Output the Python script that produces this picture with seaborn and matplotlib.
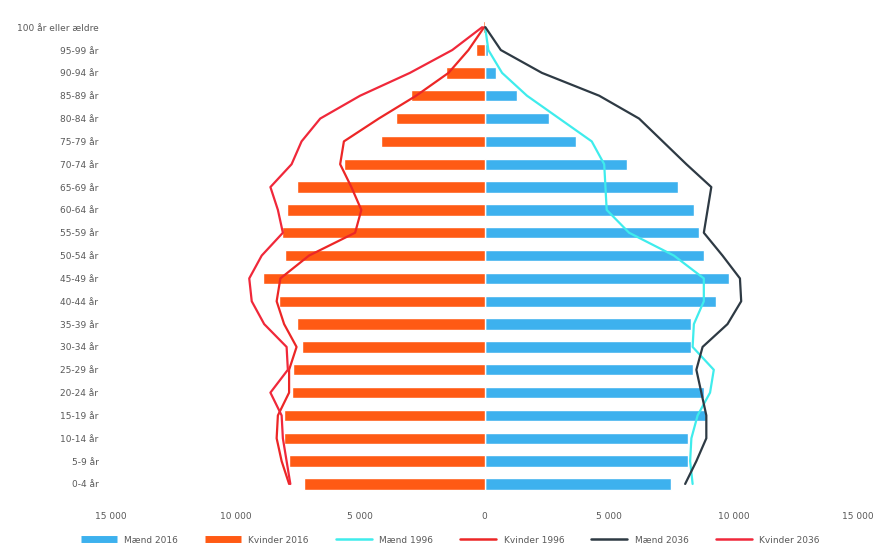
import numpy as np
import pandas as pd
import matplotlib
matplotlib.use("Agg")
import matplotlib.pyplot as plt
import seaborn as sns
from matplotlib.lines import Line2D

# Age groups, top (oldest) to bottom (youngest)
ages = ["100 år eller ældre", "95-99 år", "90-94 år", "85-89 år", "80-84 år",
        "75-79 år", "70-74 år", "65-69 år", "60-64 år", "55-59 år", "50-54 år",
        "45-49 år", "40-44 år", "35-39 år", "30-34 år", "25-29 år", "20-24 år",
        "15-19 år", "10-14 år", "5-9 år", "0-4 år"]

men_2016 = [30, 150, 450, 1300, 2600, 3650, 5700, 7750, 8400, 8600, 8800,
            9800, 9300, 8300, 8300, 8350, 8800, 8900, 8150, 8150, 7500]
women_2016 = [60, 350, 1550, 2950, 3550, 4150, 5650, 7550, 7950, 8150, 8000,
              8900, 8250, 7550, 7350, 7700, 7750, 8050, 8050, 7850, 7250]
men_1996 = [20, 150, 700, 1700, 3000, 4300, 4800, 4850, 4900, 5800, 7600,
            8800, 8800, 8400, 8350, 9200, 9050, 8550, 8300, 8250, 8350]
women_1996 = [20, 650, 1450, 2750, 4250, 5650, 5800, 5350, 4950, 5200, 7050,
              8200, 8350, 8050, 7550, 7850, 7850, 8300, 8350, 8150, 7850]
men_2036 = [30, 650, 2300, 4600, 6200, 7150, 8100, 9100, 8950, 8800, 9550,
            10250, 10300, 9750, 8750, 8500, 8700, 8900, 8900, 8500, 8050]
women_2036 = [100, 1300, 3000, 5000, 6600, 7350, 7750, 8600, 8300, 8100, 8950,
              9450, 9350, 8850, 7950, 7900, 8600, 8150, 8100, 7950, 7800]

xticks = [-15000, -10000, -5000, 0, 5000, 10000, 15000]
xtick_labels = ["15 000", "10 000", "5 000", "0", "5 000", "10 000", "15 000"]

series_names = ["Mænd 2016", "Kvinder 2016", "Mænd 1996", "Kvinder 1996",
                "Mænd 2036", "Kvinder 2036"]
c_blue = "#3DB1EE"
c_orange = "#FF5A14"
c_cyan = "#3FECEC"
c_red = "#EC2626"
c_dark = "#2E3A44"
c_red2 = "#F0283A"

sns.set_theme(style="white")
plt.rcParams["font.family"] = ["DejaVu Sans"]

fig = plt.figure(figsize=(8.74, 5.5), dpi=100)
ax = fig.add_axes([0.127, 0.0993, 0.855, 0.872])

n = len(ages)
df = pd.DataFrame({
    "age": ages * 2,
    "value": [-v for v in women_2016] + list(men_2016),
    "serie": ["Kvinder 2016"] * n + ["Mænd 2016"] * n,
})
sns.barplot(data=df, y="age", x="value", hue="serie", order=ages,
            hue_order=["Mænd 2016", "Kvinder 2016"],
            palette={"Mænd 2016": c_blue, "Kvinder 2016": c_orange},
            dodge=False, width=0.5, orient="h", saturation=1,
            legend=False, ax=ax)

pos = np.arange(n)
for vals, sign, col in [(men_1996, 1, c_cyan), (women_1996, -1, c_red),
                        (men_2036, 1, c_dark), (women_2036, -1, c_red2)]:
    sns.lineplot(x=sign * np.array(vals), y=pos, orient="y", sort=False,
                 color=col, linewidth=1.6, ax=ax)

ax.set_xlim(-15000, 15000)
ax.set_ylim(n - 0.5, -0.5)
ax.set_xticks(xticks)
ax.set_xticklabels(xtick_labels)
ax.set_xlabel("")
ax.set_ylabel("")
for s in ax.spines.values():
    s.set_visible(False)
ax.tick_params(axis="both", length=0, labelsize=6.5, colors="#595959")
ax.tick_params(axis="x", pad=12)
ax.tick_params(axis="y", pad=9)

handles = [
    Line2D([], [], color=c_blue, lw=5, solid_capstyle="butt"),
    Line2D([], [], color=c_orange, lw=5, solid_capstyle="butt"),
    Line2D([], [], color=c_cyan, lw=1.8),
    Line2D([], [], color=c_red, lw=1.8),
    Line2D([], [], color=c_dark, lw=1.8),
    Line2D([], [], color=c_red2, lw=1.8),
]
fig.legend(handles, series_names, loc="center", bbox_to_anchor=(0.515, 0.018),
           ncol=6, frameon=False, fontsize=6.5, handlelength=4.0,
           columnspacing=3.0, labelcolor="#595959")

fig.savefig("out.png", dpi=100)
